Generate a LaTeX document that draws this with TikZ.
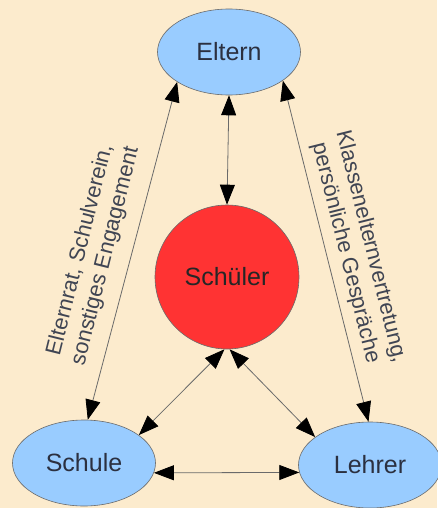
\documentclass[tikz,border=0pt]{standalone}
\usepackage{fontspec}
\setmainfont{Liberation Sans}
\usetikzlibrary{arrows.meta,shapes.geometric}
\definecolor{bgc}{HTML}{FCEBCD}
\definecolor{bluefill}{HTML}{99CCFF}
\definecolor{redfill}{HTML}{FF3333}
\definecolor{txt}{HTML}{2B3040}
\definecolor{edgec}{HTML}{6A6A6A}
\begin{document}
\begin{tikzpicture}[x=1pt,y=-1pt,
  bluenode/.style={ellipse, draw=edgec, line width=0.6pt, fill=bluefill, minimum width=143pt, minimum height=86pt, inner sep=0pt, text=txt, font=\fontsize{25}{29}\selectfont},
  rednode/.style={circle, draw=edgec, line width=0.6pt, fill=redfill, minimum size=144pt, inner sep=0pt, text=black!85, font=\fontsize{25}{29}\selectfont},
  conn/.style={draw=edgec, line width=0.8pt, {Triangle[length=20pt,width=15pt,color=black]}-{Triangle[length=20pt,width=15pt,color=black]}},
  lab/.style={text=txt!90, align=center, font=\fontsize{22}{26}\selectfont, inner sep=0pt}]
\fill[bgc] (0,0) rectangle (437,508);
\useasboundingbox (0,0) rectangle (437,508);
\node[bluenode] (E) at (229,52) {Eltern};
\node[rednode] (K) at (227,277) {Schüler};
\node[bluenode] (S) at (84,463) {Schule};
\node[bluenode] (L) at (370,465) {Lehrer};
\draw[conn] (E.270) -- (K.90);
\draw[conn] (E.210) -- (S.85);
\draw[conn] (E.332) -- (L.92);
\draw[conn] (K.268) -- (S.27);
\draw[conn] (K.272) -- (L.153);
\draw[conn] (S.352) -- (L.186);
\node[lab, rotate=76] (l1) at (93,253) {Elternrat, Schulverein,\\sonstiges Engagement};
\node[lab, rotate=-76] (l2) at (358,250) {Klassenelternvertretung,\\persönliche Gespräche};
\end{tikzpicture}
\end{document}
